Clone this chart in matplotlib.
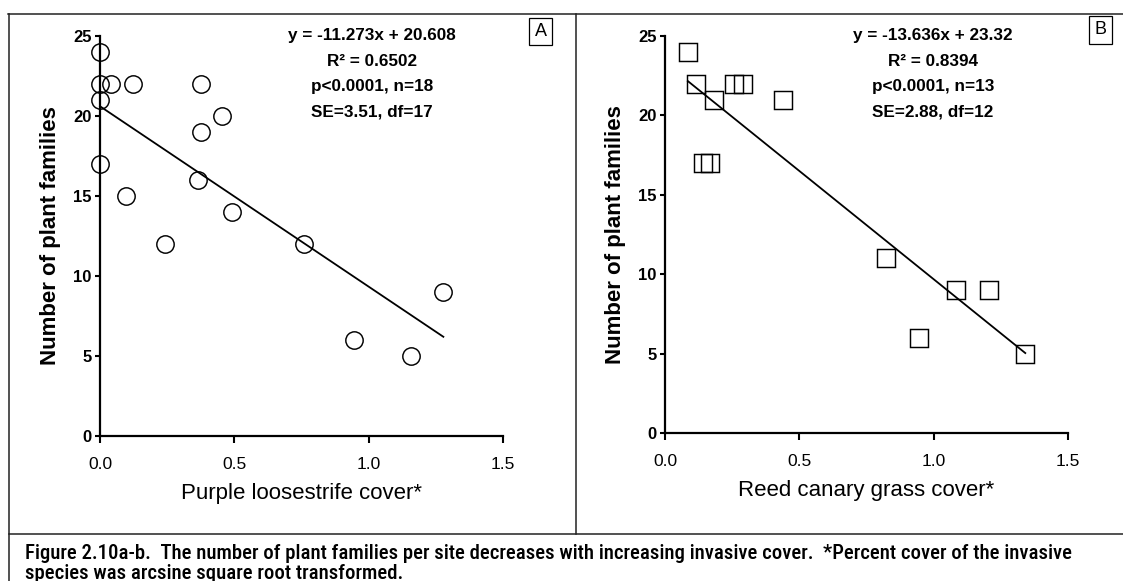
import matplotlib
matplotlib.use("Agg")
import matplotlib.pyplot as plt
from matplotlib.lines import Line2D
from matplotlib import font_manager

# ---- data -----------------------------------------------------------------
# Panel A: purple loosestrife (arcsine sqrt cover) vs. number of plant families
loosestrife_cover = [0.0, 0.0, 0.041, 0.124, 0.376, 0.0, 0.453, 0.376, 0.0,
                     0.366, 0.096, 0.492, 0.243, 0.759, 1.278, 0.947, 1.156]
loosestrife_families = [24, 22, 22, 22, 22, 21, 20, 19, 17,
                        16, 15, 14, 12, 12, 9, 6, 5]
loosestrife_slope, loosestrife_intercept = -11.273, 20.608
loosestrife_stats = ["y = -11.273x + 20.608", "R\u00b2 = 0.6502",
                     "p<0.0001, n=18", "SE=3.51, df=17"]

# Panel B: reed canary grass (arcsine sqrt cover) vs. number of plant families
canary_cover = [0.085, 0.115, 0.184, 0.257, 0.292, 0.441, 0.140, 0.168,
                0.823, 1.083, 1.207, 0.947, 1.341]
canary_families = [24, 22, 21, 22, 22, 21, 17, 17, 11, 9, 9, 6, 5]
canary_slope, canary_intercept = -13.636, 23.32
canary_stats = ["y = -13.636x + 23.32", "R\u00b2 = 0.8394",
                "p<0.0001, n=13", "SE=2.88, df=12"]

x_ticks = [0.0, 0.5, 1.0, 1.5]
x_ticklabels = ["0.0", "0.5", "1.0", "1.5"]
y_ticks = [0, 5, 10, 15, 20, 25]

caption_1 = ("Figure 2.10a-b.  The number of plant families per site decreases "
             "with increasing invasive cover.  *Percent cover of the invasive")
caption_2 = "species was arcsine square root transformed."

# ---- style ------------------------------------------------------------------
SANS = "Liberation Sans"
available = {f.name for f in font_manager.fontManager.ttflist}
NARROW = next((n for n in ("Liberation Sans Narrow", "Arial Narrow",
                           "Roboto Condensed", "Open Sans Condensed", "Roboto")
               if n in available), SANS)
plt.rcParams["font.family"] = [SANS, "DejaVu Sans"]

W, H = 1123, 581
fig = plt.figure(figsize=(W / 100, H / 100), dpi=100)
fig.patch.set_facecolor("white")


def fx(px):
    return px / W


def fy(py):
    return 1 - py / H


def panel(rect_px, xs, ys, slope, intercept, marker, msize, xlabel,
          stats, stats_x, letter, letter_xy):
    left, right, top, bottom = rect_px
    ax = fig.add_axes([fx(left), fy(bottom), fx(right) - fx(left),
                       fy(top) - fy(bottom)])
    ax.set_xlim(0, 1.5)
    ax.set_ylim(0, 25)
    for s in ("top", "right"):
        ax.spines[s].set_visible(False)
    for s in ("left", "bottom"):
        ax.spines[s].set_linewidth(1.6)
        ax.spines[s].set_color("black")
    ax.set_xticks(x_ticks)
    ax.set_xticklabels(x_ticklabels)
    ax.set_yticks(y_ticks)
    ax.tick_params(axis="x", direction="out", length=5, width=1.5, pad=10,
                   labelsize=12.5)
    ax.tick_params(axis="y", direction="out", length=3.5, width=1.5, pad=2.5,
                   labelsize=12)
    for t in ax.get_yticklabels():
        t.set_fontweight("bold")

    x0, x1 = min(xs), max(xs)
    ax.plot([x0, x1], [intercept + slope * x0, intercept + slope * x1],
            color="black", lw=1.3, clip_on=False, zorder=3)
    ax.plot(xs, ys, linestyle="none", marker=marker, markersize=msize,
            markerfacecolor="none", markeredgecolor="black",
            markeredgewidth=1.05, clip_on=False, zorder=4)

    ax.set_xlabel(xlabel, fontsize=16, labelpad=8)
    ax.set_ylabel("Number of plant families", fontsize=16, fontweight="bold",
                  labelpad=9)

    for i, line in enumerate(stats):
        fig.text(fx(stats_x), fy(35.5 + i * 25.5), line, ha="center",
                 va="center", fontsize=12.3, fontweight="bold")

    fig.text(fx(letter_xy[0]), fy(letter_xy[1]), letter, ha="center",
             va="center", fontsize=13,
             bbox=dict(boxstyle="square,pad=0.28", facecolor="white",
                       edgecolor="black", linewidth=0.9))
    return ax


panel((100, 503, 36, 436), loosestrife_cover, loosestrife_families,
      loosestrife_slope, loosestrife_intercept, "o", 12.5,
      "Purple loosestrife cover*", loosestrife_stats, 372, "A", (540.5, 31.5))
panel((665, 1068, 36, 433), canary_cover, canary_families,
      canary_slope, canary_intercept, "s", 12.4,
      "Reed canary grass cover*", canary_stats, 933, "B", (1100.5, 30))

# ---- frame around the two panels and the caption -----------------------------
frame_kw = dict(color="#222222", linewidth=1.1, transform=fig.transFigure)
fig.add_artist(Line2D([fx(8), fx(W)], [fy(14), fy(14)], **frame_kw))
fig.add_artist(Line2D([fx(9), fx(9)], [fy(14), fy(H)], **frame_kw))
fig.add_artist(Line2D([fx(576), fx(576)], [fy(14), fy(534)], **frame_kw))
fig.add_artist(Line2D([fx(9), fx(W)], [fy(534), fy(534)], **frame_kw))

# ---- caption, sized so the first line spans the frame width -----------------
cap_kw = dict(ha="left", va="baseline", family=[NARROW, "DejaVu Sans"],
              fontweight="medium")
cap1 = fig.text(fx(25), fy(559), caption_1, fontsize=13, **cap_kw)
fig.canvas.draw()
width = cap1.get_window_extent().width
cap_size = 13 * 1050 / width
cap1.set_fontsize(cap_size)
fig.text(fx(25), fy(579), caption_2, fontsize=cap_size, **cap_kw)

fig.savefig("out.png", dpi=100, facecolor="white")
